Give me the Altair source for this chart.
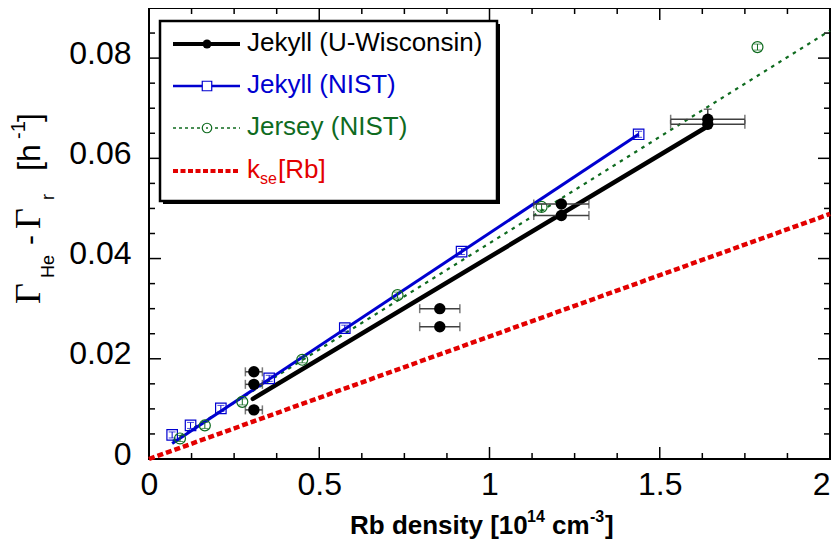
import altair as alt
import pandas as pd

# ---------------- data ----------------
wis_x = [0.308, 0.308, 0.308, 0.854, 0.854, 1.211, 1.211, 1.641, 1.641]
wis_y = [0.0174, 0.0149, 0.0098, 0.0300, 0.0264, 0.0509, 0.0486, 0.0678, 0.0668]
wis_xerr = [0.025, 0.025, 0.025, 0.059, 0.059, 0.081, 0.081, 0.109, 0.109]
wis_yerr = [0, 0, 0, 0, 0, 0, 0, 0.002, 0]
wis_fit_x = [0.305, 1.641]
wis_fit_y = [0.0120, 0.0664]

nist_x = [0.068, 0.122, 0.211, 0.353, 0.575, 0.918, 1.438]
nist_y = [0.0048, 0.0067, 0.0101, 0.0161, 0.0261, 0.0414, 0.0648]
nist_yerr = [0.0006, 0.0006, 0.0006, 0.0006, 0.0006, 0.0006, 0.0006]
nist_fit_x = [0.068, 1.438]
nist_fit_y = [0.0031, 0.0648]

jer_x = [0.091, 0.164, 0.274, 0.450, 0.730, 1.153, 1.787]
jer_y = [0.0041, 0.0067, 0.0114, 0.0198, 0.0327, 0.0503, 0.0822]
jer_yerr = [0.0006, 0.0006, 0.0006, 0.0006, 0.0006, 0.0006, 0.0006]
jer_fit_x = [0.07, 2.0]
jer_fit_y = [0.0036, 0.0855]

kse_x = [0.0, 2.0]
kse_y = [0.0, 0.0489]

x_labels = [0, 0.5, 1, 1.5, 2]
y_labels = [0, 0.02, 0.04, 0.06, 0.08]
x_major_ticks = [0.5, 1.0, 1.5]
x_minor_ticks = [0.125, 0.25, 0.375, 0.625, 0.75, 0.875, 1.125, 1.25, 1.375,
                 1.625, 1.75, 1.875]
y_major_ticks = [0.02, 0.04, 0.06, 0.08]
y_minor_ticks = [0.005, 0.01, 0.015, 0.025, 0.03, 0.035, 0.045, 0.05, 0.055,
                 0.065, 0.07, 0.075, 0.085]

legend_labels = ["Jekyll (U-Wisconsin)", "Jekyll (NIST)", "Jersey (NIST)"]

# ---------------- style ----------------
W, H = 681, 451
BLACK = "#000000"
BLUE = "#0000d0"
GREEN = "#0f6b1f"
RED = "#e30000"
SANS = "Liberation Sans"
SERIF = "Liberation Serif"

xs = alt.Scale(domain=[0, 2], nice=False, zero=False)
ys = alt.Scale(domain=[0, 0.09], nice=False, zero=False)
xaxis = alt.Axis(values=x_labels, format="~g", title=None, ticks=False, tickSize=0,
                 domain=False, grid=False, labelFontSize=32, labelFont=SANS,
                 labelColor="black", labelPadding=10, labelFlush=False,
                 labelOverlap=False,
                 labelAlign={"condition": {"test": "datum.value >= 2", "value": "right"},
                             "value": "center"})
yaxis = alt.Axis(values=y_labels, format="~g", title=None, ticks=False, tickSize=0,
                 domain=False, grid=False, labelFontSize=32, labelFont=SANS,
                 labelColor="black", labelPadding=18, labelOffset=-5,
                 labelOverlap=False)


def X(f):
    return alt.X(f, type="quantitative", scale=xs, axis=xaxis)


def Y(f):
    return alt.Y(f, type="quantitative", scale=ys, axis=yaxis)


wis = pd.DataFrame({"x": wis_x, "y": wis_y,
                    "xlo": [a - e for a, e in zip(wis_x, wis_xerr)],
                    "xhi": [a + e for a, e in zip(wis_x, wis_xerr)],
                    "ylo": [a - e for a, e in zip(wis_y, wis_yerr)],
                    "yhi": [a + e for a, e in zip(wis_y, wis_yerr)]})
wis_v = wis[wis["yhi"] > wis["y"]]
nist = pd.DataFrame({"x": nist_x, "y": nist_y,
                     "ylo": [a - e for a, e in zip(nist_y, nist_yerr)],
                     "yhi": [a + e for a, e in zip(nist_y, nist_yerr)]})
jer = pd.DataFrame({"x": jer_x, "y": jer_y,
                    "ylo": [a - e for a, e in zip(jer_y, jer_yerr)],
                    "yhi": [a + e for a, e in zip(jer_y, jer_yerr)]})
wis_fit = pd.DataFrame({"x": wis_fit_x, "y": wis_fit_y})
nist_fit = pd.DataFrame({"x": nist_fit_x, "y": nist_fit_y})
jer_fit = pd.DataFrame({"x": jer_fit_x, "y": jer_fit_y})
kse = pd.DataFrame({"x": kse_x, "y": kse_y})

layers = []

# frame ticks (inward)
for vals, L in ((y_major_ticks, 12), (y_minor_ticks, 6)):
    d = pd.DataFrame({"y": vals})
    layers.append(alt.Chart(d).mark_rule(color=BLACK, strokeWidth=1.5).encode(
        y=Y("y"), x=alt.value(0), x2=alt.value(L)))
    layers.append(alt.Chart(d).mark_rule(color=BLACK, strokeWidth=1.5).encode(
        y=Y("y"), x=alt.value(W - L), x2=alt.value(W)))
for vals, L in ((x_major_ticks, 12), (x_minor_ticks, 6)):
    d = pd.DataFrame({"x": vals})
    layers.append(alt.Chart(d).mark_rule(color=BLACK, strokeWidth=1.5).encode(
        x=X("x"), y=alt.value(H - L), y2=alt.value(H)))
    layers.append(alt.Chart(d).mark_rule(color=BLACK, strokeWidth=1.5).encode(
        x=X("x"), y=alt.value(0), y2=alt.value(L)))

# lines
layers.append(alt.Chart(kse).mark_line(color=RED, strokeWidth=4.5,
                                       strokeDash=[6, 3]).encode(x=X("x"), y=Y("y")))
layers.append(alt.Chart(jer_fit).mark_line(color=GREEN, strokeWidth=2.2,
                                           strokeDash=[3.5, 5]).encode(x=X("x"), y=Y("y")))
layers.append(alt.Chart(nist_fit).mark_line(color=BLUE, strokeWidth=3).encode(
    x=X("x"), y=Y("y")))
layers.append(alt.Chart(wis_fit).mark_line(color=BLACK, strokeWidth=4.5,
                                           strokeCap="round").encode(x=X("x"), y=Y("y")))

# small vertical error bars for NIST sets
for df, col in ((nist, BLUE), (jer, GREEN)):
    layers.append(alt.Chart(df).mark_rule(color=col, strokeWidth=1).encode(
        x=X("x"), y=Y("ylo"), y2="yhi"))
    for f in ("ylo", "yhi"):
        layers.append(alt.Chart(df).mark_tick(color=col, orient="horizontal",
                                              size=7, thickness=1).encode(x=X("x"), y=Y(f)))

# markers NIST
layers.append(alt.Chart(nist).mark_point(shape="square", filled=False, color=BLUE,
                                         size=110, strokeWidth=1.2, opacity=1).encode(
    x=X("x"), y=Y("y")))
layers.append(alt.Chart(jer).mark_point(shape="circle", filled=False, color=GREEN,
                                        size=120, strokeWidth=1.2, opacity=1).encode(
    x=X("x"), y=Y("y")))

# U-Wisconsin error bars
EB = "#404040"
layers.append(alt.Chart(wis).mark_rule(color=EB, strokeWidth=1.5).encode(
    x=X("xlo"), x2="xhi", y=Y("y")))
for f in ("xlo", "xhi"):
    layers.append(alt.Chart(wis).mark_tick(color=EB, orient="vertical", size=9,
                                           thickness=1.5).encode(x=X(f), y=Y("y")))
layers.append(alt.Chart(wis_v).mark_rule(color=EB, strokeWidth=1.5).encode(
    x=X("x"), y=Y("ylo"), y2="yhi"))
layers.append(alt.Chart(wis_v).mark_tick(color=EB, orient="horizontal", size=8,
                                         thickness=1.5).encode(x=X("x"), y=Y("yhi")))
layers.append(alt.Chart(wis).mark_point(shape="circle", filled=True, color=BLACK,
                                        size=130, opacity=1).encode(x=X("x"), y=Y("y")))

# ---------------- legend (drawn in pixel space) ----------------
one = pd.DataFrame({"a": [0]})


def rect(x1, x2, y1, y2, **kw):
    return alt.Chart(one).mark_rect(**kw).encode(
        x=alt.value(x1), x2=alt.value(x2), y=alt.value(y1), y2=alt.value(y2))


def text(t, x, y, size, color=BLACK, font=SANS, **kw):
    return alt.Chart(one).mark_text(text=t, font=font, fontSize=size, color=color,
                                    align="left", baseline="alphabetic", **kw).encode(
        x=alt.value(x), y=alt.value(y))


def hline(x1, x2, y, **kw):
    return alt.Chart(one).mark_rule(**kw).encode(
        x=alt.value(x1), x2=alt.value(x2), y=alt.value(y))


def pt(x, y, **kw):
    return alt.Chart(one).mark_point(opacity=1, **kw).encode(x=alt.value(x), y=alt.value(y))


layers.append(rect(14, 351, 16, 196, color=BLACK))
layers.append(rect(11, 348, 13, 193, fill="white", stroke=BLACK, strokeWidth=2.5))
rows = [36, 78, 120, 163]
layers.append(hline(24, 91, rows[0], color=BLACK, strokeWidth=4))
layers.append(pt(58, rows[0], shape="circle", filled=True, color=BLACK, size=80))
layers.append(text(legend_labels[0], 98, rows[0] + 7, 26, BLACK))
layers.append(hline(24, 91, rows[1], color=BLUE, strokeWidth=2.5))
layers.append(pt(58, rows[1], shape="square", filled=True, fill="white", stroke=BLUE,
                 strokeWidth=1.2, size=90))
layers.append(text(legend_labels[1], 98, rows[1] + 7, 26, BLUE))
layers.append(hline(24, 91, rows[2], color=GREEN, strokeWidth=1.5, strokeDash=[3, 3]))
layers.append(pt(58, rows[2], shape="circle", filled=True, fill="white", stroke=GREEN,
                 strokeWidth=1.2, size=90))
layers.append(pt(58, rows[2], shape="circle", filled=True, color=GREEN, size=4))
layers.append(text(legend_labels[2], 98, rows[2] + 7, 26, GREEN))
layers.append(hline(24, 91, rows[3], color=RED, strokeWidth=4, strokeDash=[5, 2.5]))
layers.append(text("k", 98, rows[3] + 7, 26, RED))
layers.append(text("se", 111, rows[3] + 13, 16, RED))
layers.append(text("[Rb]", 129, rows[3] + 7, 26, RED))

# ---------------- axis titles (rich text pieces) ----------------
ox, oy = 149, 7  # plot origin in page pixels
layers.append(text("Rb density [10", 350 - ox, 533 - oy, 26, fontWeight="bold"))
layers.append(text("14", 527 - ox, 521 - oy, 16, fontWeight="bold"))
layers.append(text("cm", 552 - ox, 533 - oy, 26, fontWeight="bold"))
layers.append(text("-3", 590 - ox, 521 - oy, 16, fontWeight="bold"))
layers.append(text("]", 605 - ox, 533 - oy, 26, fontWeight="bold"))

yt = [("\u0393", 303, 40, 36, SERIF), ("He", 277, 54, 18, SANS),
      ("-", 244, 40, 30, SANS), ("\u0393", 228, 40, 36, SERIF),
      ("r", 199, 54, 18, SANS), ("[h", 170, 40, 32, SANS),
      ("-1", 138, 25, 20, SANS), ("]", 121, 40, 32, SANS)]
for t, py, px, s, f in yt:
    layers.append(text(t, px - ox, py - oy, s, font=f, angle=270))

chart = alt.layer(*layers).properties(
    width=W, height=H,
    autosize=alt.AutoSizeParams(type="none"),
    padding={"left": 141, "top": 0, "right": 2, "bottom": 82},
).configure_view(stroke=BLACK, strokeWidth=2)

chart.save("out.html", embed_options={"renderer": "svg", "actions": False})
